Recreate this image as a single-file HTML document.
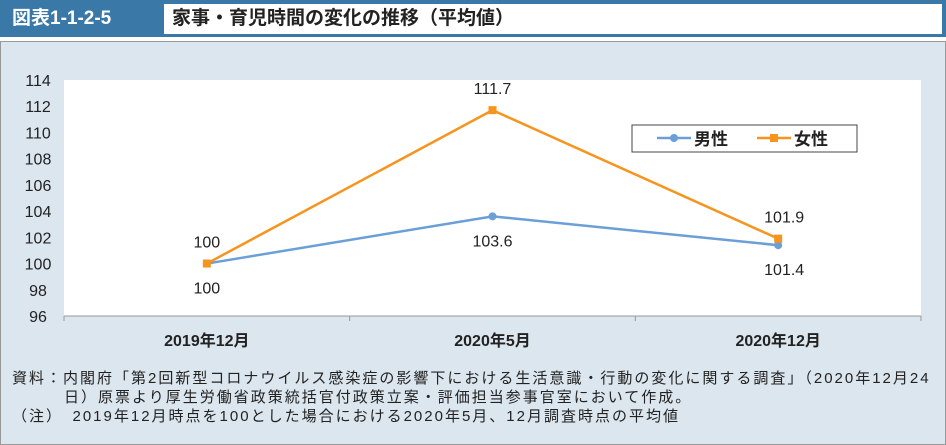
<!DOCTYPE html>
<html><head><meta charset="utf-8">
<style>
body{margin:0;width:946px;height:445px;overflow:hidden;background:#fff;font-family:"Liberation Sans","Noto Sans CJK JP",sans-serif;}
#hdr{position:absolute;left:0;top:0;width:946px;height:37px;background:#3a78a8;}
#hdr-l{position:absolute;left:4px;top:4px;width:158px;height:30px;color:#fff;font-size:19px;font-weight:bold;line-height:30px;padding-left:8px;box-sizing:border-box;}
#hdr-r{position:absolute;left:164px;top:4px;width:778px;height:30px;background:#fff;font-size:19px;font-weight:bold;line-height:30px;padding-left:8px;box-sizing:border-box;color:#222;}
#panel{position:absolute;left:0;top:41px;width:944px;height:402px;background:#dce6ee;border:1px solid #999;}
.note{position:absolute;font-size:15px;letter-spacing:2px;color:#222;white-space:nowrap;}
</style></head><body>
<div id="hdr">
<div id="hdr-l">図表1-1-2-5</div>
<div id="hdr-r">家事・育児時間の変化の推移（平均値）</div>
</div>
<div id="panel"></div>
<svg id="chart" width="946" height="445" style="position:absolute;left:0;top:0"></svg>
<div class="note" style="left:12px;top:367px">資料：内閣府「第2回新型コロナウイルス感染症の影響下における生活意識・行動の変化に関する調査」（2020年12月24</div>
<div class="note" style="left:64px;top:386px">日）原票より厚生労働省政策統括官付政策立案・評価担当参事官室において作成。</div>
<div class="note" style="left:12px;top:405px">（注）　2019年12月時点を100とした場合における2020年5月、12月調査時点の平均値</div>
<script>
const categories=["2019年12月","2020年5月","2020年12月"];
const maleValues=[100,103.6,101.4];
const femaleValues=[100,111.7,101.9];
const yTicks=[96,98,100,102,104,106,108,110,112,114];
const seriesNames=["男性","女性"];
const NS="http://www.w3.org/2000/svg";
const svg=document.getElementById('chart');
const L=64,R=921,T=80,B=316,yMin=96,yMax=114;
const x=i=>L+(R-L)/categories.length*(i+0.5);
const y=v=>B-(v-yMin)/(yMax-yMin)*(B-T);
function el(t,a,txt){const e=document.createElementNS(NS,t);for(const k in a)e.setAttribute(k,a[k]);if(txt!==undefined)e.textContent=txt;svg.appendChild(e);return e;}
let e=el('rect',{x:L,y:T,width:R-L,height:B-T,fill:'#fff'});


e=el('line',{x1:L,y1:B,x2:R,y2:B,stroke:'#999'});


for(let i=0;i<=categories.length;i++){e=el('line',{x1:L+(R-L)/categories.length*i,y1:B,x2:L+(R-L)/categories.length*i,y2:B+5,stroke:'#999'});

}
yTicks.forEach(v=>{e=el('text',{x:38,y:y(v)+6,'text-anchor':'middle','font-size':16,fill:'#222'},v);

});
categories.forEach((c,i)=>{e=el('text',{x:x(i),y:346,'text-anchor':'middle','font-size':16,'font-weight':'bold',fill:'#222'},c);

});
function series(vals,color,marker,name,above){
 e=el('polyline',{points:vals.map((v,i)=>x(i)+','+y(v)).join(' '),fill:'none',stroke:color,'stroke-width':2.5});
 
 
 vals.forEach((v,i)=>{
  if(marker==='c')e=el('circle',{cx:x(i),cy:y(v),r:4,fill:color});
  else e=el('rect',{x:x(i)-4,y:y(v)-4,width:8,height:8,fill:color});
  
  
  const ly=above[i]?y(v)-16:y(v)+30;
  e=el('text',{x:x(i)+(i==2?6:0),y:ly,'text-anchor':'middle','font-size':16,fill:'#222'},String(v));
  
  
 });
}
series(maleValues,'#6a9fd8','c','male',[false,false,false]);
series(femaleValues,'#f7941d','s','female',[true,true,true]);
e=el('rect',{x:632,y:125,width:225,height:27,fill:'#fff',stroke:'#444'});


e=el('line',{x1:657,y1:138,x2:691,y2:138,stroke:'#6a9fd8','stroke-width':2.5});


el('circle',{cx:674,cy:138,r:4,fill:'#6a9fd8'});
e=el('text',{x:694,y:145,'font-size':17,'font-weight':'bold',fill:'#222'},seriesNames[0]);


e=el('line',{x1:757,y1:138,x2:791,y2:138,stroke:'#f7941d','stroke-width':2.5});


el('rect',{x:770,y:134,width:8,height:8,fill:'#f7941d'});
e=el('text',{x:794,y:145,'font-size':17,'font-weight':'bold',fill:'#222'},seriesNames[1]);


</script>
</body></html>
